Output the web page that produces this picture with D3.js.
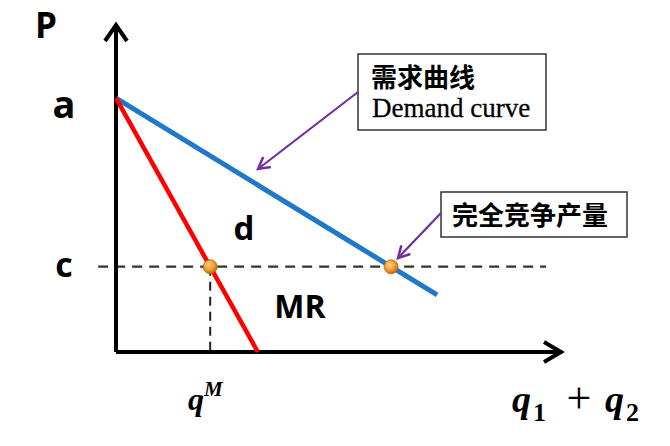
<!DOCTYPE html>
<html><head><meta charset="utf-8">
<script src="https://cdn.jsdelivr.net/npm/d3@7"></script>
<style>body{margin:0;background:#fff}svg{display:block}</style>
</head><body>
<script>
// ---- data ----
const priceLabels = ["a", "c"];
const priceValues = [77.4, 26];
const demandQ = [0, 72];
const demandP = [77.4, 17.4];
const mrQ = [0, 31.8];
const mrP = [77.4, 0];
const cLineQ = [-4, 96.4];
const axisMax = [100, 100];

const W = 670, H = 446;
const svg = d3.select("body").append("svg").attr("width", W).attr("height", H);
const x = d3.scaleLinear().domain([0, axisMax[0]]).range([116, 562]);
const y = d3.scaleLinear().domain([0, axisMax[1]]).range([352, 24]);
const line = d3.line().x(d => x(d[0])).y(d => y(d[1]));

const latin = "'Open Sans', Lato, sans-serif";
const cjk = "'Noto Sans CJK SC', sans-serif";
const serif = "'Liberation Serif', 'DejaVu Serif', serif";

function qAt(qs, ps, p) { return qs[0] + (p - ps[0]) / (ps[1] - ps[0]) * (qs[1] - qs[0]); }
const cP = priceValues[1];
const qM = qAt(mrQ, mrP, cP);
const qC = qAt(demandQ, demandP, cP);

// dashed lines
svg.append("path").attr("d", line([[cLineQ[0], cP], [cLineQ[1], cP]]))
  .attr("stroke", "#333").attr("stroke-width", 2.2).attr("stroke-dasharray", "10,7").attr("fill", "none");
svg.append("path").attr("d", line([[qM, cP], [qM, 0]]))
  .attr("stroke", "#222").attr("stroke-width", 2).attr("stroke-dasharray", "9,6").attr("fill", "none");

// axes
svg.append("path").attr("d", line([[0, 0], [0, axisMax[1]]])).attr("stroke", "#000").attr("stroke-width", 4).attr("fill", "none");
svg.append("path").attr("d", line([[0, 0], [axisMax[0], 0]])).attr("stroke", "#000").attr("stroke-width", 4).attr("fill", "none");
const yt = [x(0), y(axisMax[1])];
svg.append("path").attr("d", `M${yt[0]-11},${yt[1]+17} L${yt[0]},${yt[1]+1} L${yt[0]+11},${yt[1]+17}`)
  .attr("stroke", "#000").attr("stroke-width", 4).attr("fill", "none").attr("stroke-linejoin", "miter");
const xt = [x(axisMax[0]), y(0)];
svg.append("path").attr("d", `M${xt[0]-18},${xt[1]-10} L${xt[0]-1},${xt[1]} L${xt[0]-18},${xt[1]+10}`)
  .attr("stroke", "#000").attr("stroke-width", 4).attr("fill", "none").attr("stroke-linejoin", "miter");

// demand & MR
svg.append("path").attr("d", line(demandQ.map((q, i) => [q, demandP[i]])))
  .attr("stroke", "#1F78C8").attr("stroke-width", 5).attr("fill", "none");
svg.append("path").attr("d", line(mrQ.map((q, i) => [q, mrP[i]])))
  .attr("stroke", "#FF0000").attr("stroke-width", 4.5).attr("fill", "none");

// dots
const defs = svg.append("defs");
const g = defs.append("radialGradient").attr("id", "og").attr("cx", "40%").attr("cy", "35%").attr("r", "65%");
g.append("stop").attr("offset", "0%").attr("stop-color", "#FFD28A");
g.append("stop").attr("offset", "60%").attr("stop-color", "#F29A2E");
g.append("stop").attr("offset", "100%").attr("stop-color", "#C46A0C");
svg.selectAll("circle.dot").data([qM, qC]).join("circle").attr("class", "dot")
  .attr("cx", d => x(d)).attr("cy", y(cP)).attr("r", 7)
  .attr("fill", "url(#og)").attr("stroke", "#B8650F").attr("stroke-width", 0.8);

// axis labels
svg.append("text").attr("x", 46).attr("y", 38).attr("text-anchor", "middle")
  .attr("font-family", latin).attr("font-weight", "bold").attr("font-size", 35).text("P");
svg.selectAll("text.pl").data(priceLabels).join("text").attr("class", "pl")
  .attr("x", 64).attr("y", (d, i) => y(priceValues[i]) + (i === 0 ? 20 : 10)).attr("text-anchor", "middle")
  .attr("font-family", latin).attr("font-weight", "bold").attr("font-size", (d, i) => i === 0 ? 38 : 34).text(d => d);
svg.append("text").attr("x", 244).attr("y", 240).attr("text-anchor", "middle")
  .attr("font-family", latin).attr("font-weight", "bold").attr("font-size", 33).text("d");
svg.append("text").attr("x", 300).attr("y", 318).attr("text-anchor", "middle")
  .attr("font-family", latin).attr("font-weight", "bold").attr("font-size", 32).text("MR");

// q^M
const qm = svg.append("text").attr("x", 188).attr("y", 410).attr("font-family", serif)
  .attr("font-weight", "bold").attr("font-style", "italic").attr("font-size", 32);
qm.append("tspan").text("q");
qm.append("tspan").attr("dy", -14).attr("font-size", 21).text("M");

// q1 + q2
function qSub(x0, sub) {
  const t = svg.append("text").attr("x", x0).attr("y", 412).attr("font-family", serif)
    .attr("font-weight", "bold").attr("font-style", "italic").attr("font-size", 38);
  t.append("tspan").text("q");
  t.append("tspan").attr("dx", 2).attr("dy", 9).attr("font-size", 26).attr("font-style", "normal").text(sub);
}
qSub(512, "1");
svg.append("text").attr("x", 579).attr("y", 413).attr("text-anchor", "middle").attr("font-family", serif)
  .attr("font-size", 44).text("+");
qSub(605, "2");

// callout boxes
svg.append("rect").attr("x", 358).attr("y", 54).attr("width", 188).attr("height", 76)
  .attr("fill", "#fff").attr("stroke", "#333").attr("stroke-width", 1.5);
svg.append("text").attr("x", 371).attr("y", 87).attr("font-family", cjk).attr("font-weight", "bold")
  .attr("font-size", 26).text("需求曲线");
svg.append("text").attr("x", 372).attr("y", 117).attr("font-family", serif)
  .attr("font-size", 27).attr("stroke", "#000").attr("stroke-width", 0.3).text("Demand curve");

svg.append("rect").attr("x", 441).attr("y", 192).attr("width", 186).attr("height", 45)
  .attr("fill", "#fff").attr("stroke", "#333").attr("stroke-width", 1.5);
svg.append("text").attr("x", 452).attr("y", 225).attr("font-family", cjk).attr("font-weight", "bold")
  .attr("font-size", 26).text("完全竞争产量");

// purple arrows
function purpleArrow(x1, y1, x2, y2) {
  svg.append("line").attr("x1", x1).attr("y1", y1).attr("x2", x2).attr("y2", y2)
    .attr("stroke", "#7030A0").attr("stroke-width", 2.2);
  const a = Math.atan2(y2 - y1, x2 - x1), L = 13, s = 0.5;
  svg.append("path").attr("d",
    `M${x2 - L * Math.cos(a - s)},${y2 - L * Math.sin(a - s)} L${x2},${y2} L${x2 - L * Math.cos(a + s)},${y2 - L * Math.sin(a + s)}`)
    .attr("stroke", "#7030A0").attr("stroke-width", 2.5).attr("fill", "none");
}
purpleArrow(358, 92, 258, 169);
purpleArrow(441, 213, 398, 258);
</script>
</body></html>
